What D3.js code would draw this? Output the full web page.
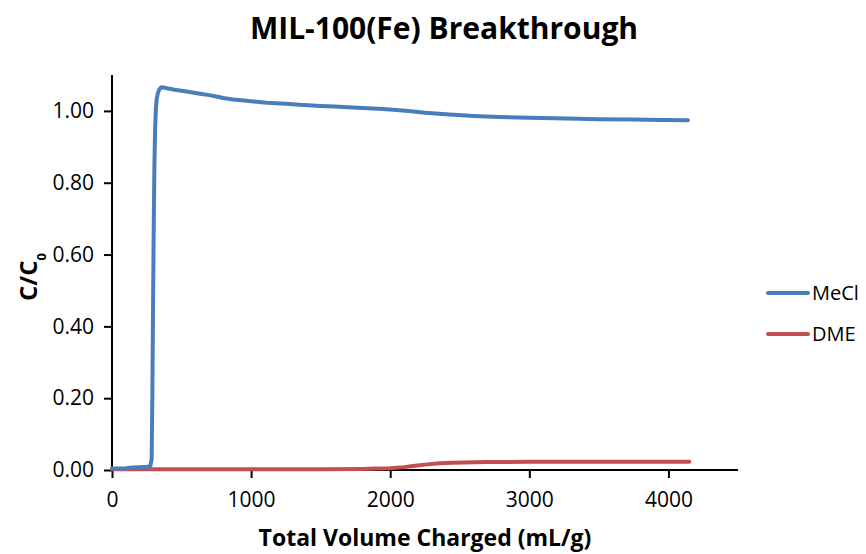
<!DOCTYPE html>
<html>
<head>
<meta charset="utf-8">
<script src="https://cdn.jsdelivr.net/npm/d3@7"></script>
<style>
  body { margin: 0; background: #fff; }
  text { font-family: "Open Sans", sans-serif; fill: #000; }
</style>
</head>
<body>
<svg id="chart" width="866" height="554"></svg>
<script>
// Breakthrough curves: volume charged (mL/g) vs C/C0
const xTicks = [0, 1000, 2000, 3000, 4000];
const yTicks = [0.00, 0.20, 0.40, 0.60, 0.80, 1.00];

const meclX = [0, 60, 100, 150, 200, 250, 275, 285, 290, 295, 300, 305, 310, 316, 322, 330, 340, 355, 375, 395, 450, 500, 570, 632, 700, 750, 800, 870, 950, 1000, 1110, 1250, 1350, 1500, 1600, 1800, 1950, 2067, 2150, 2250, 2350, 2426, 2600, 2785, 3000, 3266, 3500, 3745, 3950, 4140];
const meclY = [0.004, 0.004, 0.005, 0.007, 0.008, 0.009, 0.010, 0.030, 0.200, 0.450, 0.680, 0.850, 0.950, 1.010, 1.035, 1.050, 1.060, 1.066, 1.065, 1.063, 1.059, 1.056, 1.052, 1.048, 1.044, 1.040, 1.036, 1.032, 1.029, 1.027, 1.023, 1.020, 1.017, 1.014, 1.012, 1.008, 1.005, 1.002, 0.999, 0.995, 0.992, 0.990, 0.986, 0.983, 0.981, 0.979, 0.977, 0.976, 0.975, 0.974];

const dmeX = [0, 500, 1000, 1500, 1800, 1900, 2000, 2100, 2163, 2250, 2355, 2450, 2522, 2700, 3000, 3500, 4000, 4150];
const dmeY = [0.002, 0.002, 0.002, 0.002, 0.003, 0.004, 0.005, 0.008, 0.011, 0.015, 0.019, 0.020, 0.021, 0.022, 0.023, 0.023, 0.023, 0.023];

const seriesNames = ["MeCl", "DME"];
const seriesColors = ["#4A7EBB", "#C0504D"];

const svg = d3.select("#chart");
const plot = { left: 112, right: 738, top: 75, bottom: 470 };

const x = d3.scaleLinear().domain([0, 4500]).range([plot.left, plot.right]);
const y = d3.scaleLinear().domain([0, 1.1]).range([plot.bottom, plot.top]);

// Title
svg.append("text")
  .attr("x", 444).attr("y", 39)
  .attr("text-anchor", "middle")
  .style("font-size", "30px").style("font-weight", "700")
  .text("MIL-100(Fe) Breakthrough");

// Axes
const xAxis = d3.axisBottom(x).tickValues(xTicks).tickFormat(d3.format("d")).tickSize(8).tickPadding(14);
const yAxis = d3.axisLeft(y).tickValues(yTicks).tickFormat(d3.format(".2f")).tickSize(8).tickPadding(10);

const gx = svg.append("g").attr("transform", `translate(0,${plot.bottom})`).call(xAxis);
const gy = svg.append("g").attr("transform", `translate(${plot.left},0)`).call(yAxis);

[gx, gy].forEach(g => {
  g.select(".domain").attr("stroke", "#000").attr("stroke-width", 2)
    .attr("d", g === gx
      ? `M${plot.left},0H${plot.right}`
      : `M0,${plot.top}V${plot.bottom}`);
  g.selectAll(".tick line").attr("stroke", "#000").attr("stroke-width", 2);
  g.selectAll(".tick text").style("font-size", "21px").style("font-family", "\"Open Sans\", sans-serif").attr("fill", "#000");
});

// Axis titles
svg.append("text")
  .attr("x", 425).attr("y", 546)
  .attr("text-anchor", "middle")
  .style("font-size", "23px").style("font-weight", "700")
  .text("Total Volume Charged (mL/g)");

const yt = svg.append("text")
  .attr("transform", `translate(37,277) rotate(-90)`)
  .attr("text-anchor", "middle")
  .style("font-size", "24px").style("font-weight", "700");
yt.append("tspan").text("C/C");
yt.append("tspan").attr("baseline-shift", "sub").style("font-size", "13px").text("0");

// Series lines
const line = d3.line().x(d => x(d[0])).y(d => y(d[1]));
const series = [
  d3.zip(meclX, meclY),
  d3.zip(dmeX, dmeY)
];
// draw DME first so MeCl sits on top at the baseline
[1, 0].forEach(i => {
  svg.append("path")
    .datum(series[i])
    .attr("fill", "none")
    .attr("stroke", seriesColors[i])
    .attr("stroke-width", 4)
    .attr("stroke-linejoin", "round")
    .attr("stroke-linecap", "round")
    .attr("d", line);
});

// Legend
const legend = svg.append("g");
seriesNames.forEach((name, i) => {
  const ly = 293 + i * 41;
  legend.append("line")
    .attr("x1", 768).attr("x2", 808).attr("y1", ly).attr("y2", ly)
    .attr("stroke", seriesColors[i]).attr("stroke-width", 4)
    .attr("stroke-linecap", "round");
  legend.append("text")
    .attr("x", 812).attr("y", ly + 7)
    .style("font-size", "20px")
    .text(name);
});
</script>
</body>
</html>
